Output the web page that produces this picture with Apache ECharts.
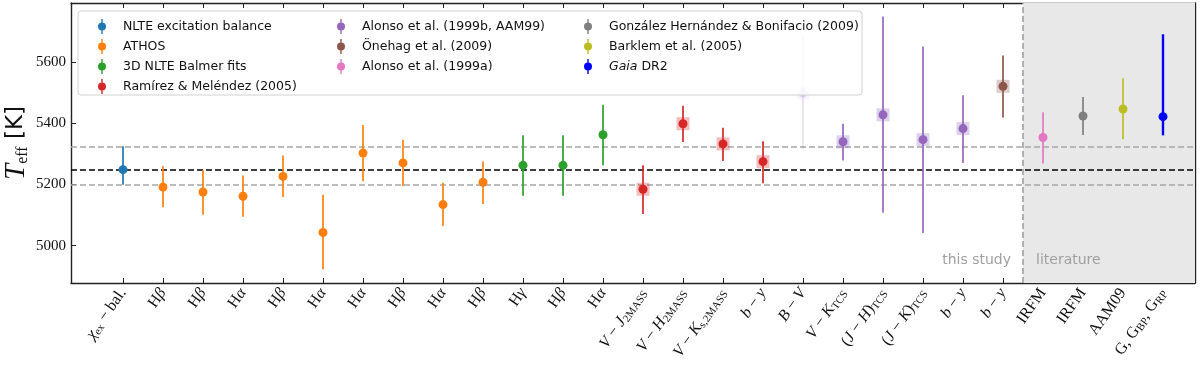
<!DOCTYPE html>
<html>
<head>
<meta charset="utf-8">
<script src="https://cdn.jsdelivr.net/npm/echarts@6/dist/echarts.min.js"></script>
<style>
  html, body { margin: 0; padding: 0; background: #fff; }
  #teff-chart { width: 1200px; height: 367px; }
</style>
</head>
<body>
<div id="teff-chart"></div>
<script>
// x tick labels (rich text markup: m = math italic, s = subscript)
const labels = [
  '{m|χ}{s|ex} − bal.', 'H{m|β}', 'H{m|β}', 'H{m|α}', 'H{m|β}', 'H{m|α}', 'H{m|α}', 'H{m|β}', 'H{m|α}',
  'H{m|β}', 'H{m|γ}', 'H{m|β}', 'H{m|α}',
  '{m|V} − {m|J}{s|2MASS}', '{m|V} − {m|H}{s|2MASS}', '{m|V} − {m|K}{s|s,2MASS}', '{m|b} − {m|y}',
  '{m|B} − {m|V}', '{m|V} − {m|K}{s|TCS}', '({m|J} − {m|H}){s|TCS}', '({m|J} − {m|K}){s|TCS}',
  '{m|b} − {m|y}', '{m|b} − {m|y}', 'IRFM', 'IRFM', 'AAM09', 'G, G{s|BP}, G{s|RP}'
]
const teff = [5248, 5191, 5175, 5161, 5226, 5043, 5302, 5270, 5134, 5207, 5262, 5262, 5362, 5184,
  5398, 5332, 5274, 5498, 5339, 5427, 5346, 5382, 5520, 5353, 5423, 5446, 5421]
const errLow = [5199, 5125, 5101, 5094, 5159, 4922, 5210, 5195, 5065, 5136, 5163, 5163, 5262, 5103,
  5338, 5276, 5204, 5316, 5278, 5107, 5041, 5270, 5418, 5268, 5361, 5347, 5360]
const errHigh = [5324, 5259, 5246, 5229, 5294, 5166, 5394, 5346, 5205, 5275, 5360, 5360, 5460, 5262,
  5457, 5385, 5341, 5685, 5398, 5748, 5650, 5491, 5621, 5435, 5485, 5546, 5690]
// which source each point belongs to (index into sourceNames)
const sourceOf = [0, 1, 1, 1, 1, 1, 1, 1, 1, 1, 2, 2, 2, 3, 3, 3, 3, 4, 4, 4, 4, 4, 5, 6, 7, 8, 9]
const boxed = [0, 0, 0, 0, 0, 0, 0, 0, 0, 0, 0, 0, 0, 1, 1, 1, 1, 1, 1, 1, 1, 1, 1, 0, 0, 0, 0]
const faded = [0, 0, 0, 0, 0, 0, 0, 0, 0, 0, 0, 0, 0, 0, 0, 0, 0, 1, 0, 0, 0, 0, 0, 0, 0, 0, 0]
const sourceNames = [
  'NLTE excitation balance', 'ATHOS', '3D NLTE Balmer fits', 'Ramírez & Meléndez (2005)',
  'Alonso et al. (1999b, AAM99)', 'Önehag et al. (2009)', 'Alonso et al. (1999a)',
  'González Hernández & Bonifacio (2009)', 'Barklem et al. (2005)', 'Gaia DR2'
]
const colors = ['#1f77b4', '#ff7f0e', '#2ca02c', '#d62728', '#9467bd', '#8c564b', '#e377c2',
  '#7f7f7f', '#bcbd22', '#0000ff']
const refTeff = 5248
const refLow = 5199
const refHigh = 5324
const yTicks = [5000, 5200, 5400, 5600]
const literatureStart = 22.5

const serif = '"Liberation Serif", "DejaVu Serif", serif'
const sans = '"DejaVu Sans", sans-serif'
const xMin = -1.3
const xMax = 26.8
const yMin = 4878
const yMax = 5792

function renderErr(params, api) {
  const x = api.value(0)
  const c = api.coord([x, api.value(1)])
  const lo = api.coord([x, api.value(2)])
  const hi = api.coord([x, api.value(3)])
  const color = api.visual('color')
  const op = api.value(5) ? 0.22 : 1
  const lw = params.seriesName === 'Gaia DR2' ? 2.4 : 1.7
  const children = []
  if (api.value(4)) {
    children.push({
      type: 'rect',
      shape: { x: c[0] - 6.5, y: c[1] - 6.5, width: 13, height: 13 },
      style: { fill: color, opacity: 0.3 * op },
    })
  }
  children.push({
    type: 'line',
    shape: { x1: c[0], y1: hi[1], x2: c[0], y2: lo[1] },
    style: { stroke: color, lineWidth: lw, opacity: op },
  })
  children.push({
    type: 'circle',
    shape: { cx: c[0], cy: c[1], r: 4.5 },
    style: { fill: color, opacity: op },
  })
  return { type: 'group', children }
}

function getSeries() {
  const series = sourceNames.map((name, k) => {
    const data = []
    teff.forEach((v, i) => {
      if (sourceOf[i] === k) data.push([i, v, errLow[i], errHigh[i], boxed[i], faded[i]])
    })
    return {
      name,
      type: 'custom',
      renderItem: renderErr,
      itemStyle: { color: colors[k] },
      encode: { x: 0, y: [1, 2, 3] },
      data,
      z: 5,
    }
  })
  // reference lines, shaded literature region
  series.push({
    name: 'ref',
    type: 'line',
    data: [],
    silent: true,
    markArea: {
      silent: true,
      itemStyle: { color: '#e8e8e8' },
      data: [[{ xAxis: literatureStart }, { xAxis: xMax }]],
    },
    markLine: {
      silent: true,
      symbol: 'none',
      label: { show: false },
      data: [
        { yAxis: refTeff, lineStyle: { color: '#000', width: 1.6, type: [6, 3] } },
        { yAxis: refLow, lineStyle: { color: '#a6a6a6', width: 1.6, type: [6, 3] } },
        { yAxis: refHigh, lineStyle: { color: '#a6a6a6', width: 1.6, type: [6, 3] } },
        { xAxis: literatureStart, lineStyle: { color: '#a0a0a0', width: 1.6, type: [6, 3] } },
      ],
    },
    z: 1,
  })
  return series
}

const legendIcon = 'path://M3.3,0h1.4v15h-1.4z M0,7.5a4,4 0 1,1 8,0a4,4 0 1,1 -8,0z'
function makeLegend(left, names) {
  return {
    left,
    top: 14,
    orient: 'vertical',
    icon: legendIcon,
    itemWidth: 8,
    itemHeight: 15,
    itemGap: 5,
    selectedMode: false,
    data: names,
    formatter: (n) => (n === 'Gaia DR2' ? '{i|Gaia} DR2' : n),
    textStyle: {
      fontFamily: sans,
      fontSize: 12.5,
      color: '#111',
      padding: [0, 0, 0, 12],
      rich: { i: { fontFamily: sans, fontSize: 12.5, fontStyle: 'italic', color: '#111' } },
    },
    z: 20,
  }
}

const labelRich = {
  m: { fontFamily: serif, fontStyle: 'italic', fontSize: 16, color: '#111' },
  s: { fontFamily: serif, fontSize: 11, color: '#111', verticalAlign: 'bottom', padding: [7, 0, 0, 0] },
}

const tickIdx = labels.map((l, i) => i)

const chart = echarts.init(document.getElementById('teff-chart'))
const option = {
  animation: false,
  backgroundColor: '#fff',
  grid: { left: 71, right: 5, top: 3, bottom: 84, outerBoundsMode: 'none', containLabel: false },
  legend: [
    makeLegend(93, sourceNames.slice(0, 4)),
    makeLegend(332, sourceNames.slice(4, 7)),
    makeLegend(579, sourceNames.slice(7, 10)),
  ],
  graphic: [
    {
      type: 'rect',
      shape: { x: 78, y: 11, width: 784, height: 84, r: 3 },
      style: { fill: 'rgba(255,255,255,0.8)', stroke: '#d0d0d0', lineWidth: 1 },
      z: 15,
    },
    {
      type: 'text',
      x: 1011, y: 260,
      style: { text: 'this study', fill: '#a0a0a0', font: '14px ' + sans, align: 'right', verticalAlign: 'middle' },
      z: 10,
    },
    {
      type: 'text',
      x: 1036, y: 260,
      style: { text: 'literature', fill: '#a0a0a0', font: '14px ' + sans, align: 'left', verticalAlign: 'middle' },
      z: 10,
    },
  ],
  xAxis: [
    {
      type: 'value',
      min: xMin,
      max: xMax,
      splitLine: { show: false },
      axisLine: { onZero: false, lineStyle: { color: '#222', width: 1.4 } },
      axisTick: { inside: true, length: 5, customValues: tickIdx, lineStyle: { color: '#222' } },
      axisLabel: {
        customValues: tickIdx,
        rotate: 55,
        margin: 7,
        fontFamily: serif,
        fontSize: 16,
        color: '#111',
        formatter: (v) => labels[Math.round(v)],
        rich: labelRich,
      },
    },
    {
      type: 'value',
      position: 'top',
      min: xMin,
      max: xMax,
      splitLine: { show: false },
      axisLine: { onZero: false, lineStyle: { color: '#222', width: 1.4 } },
      axisTick: { inside: true, length: 5, customValues: tickIdx, lineStyle: { color: '#222' } },
      axisLabel: { show: false },
    },
  ],
  yAxis: [
    {
      type: 'value',
      min: yMin,
      max: yMax,
      splitLine: { show: false },
      axisLine: { show: true, onZero: false, lineStyle: { color: '#222', width: 1.4 } },
      axisTick: { inside: true, length: 5, customValues: yTicks, lineStyle: { color: '#222' } },
      axisLabel: {
        customValues: yTicks,
        fontFamily: serif,
        fontSize: 15,
        color: '#111',
        margin: 5,
        formatter: (v) => String(v),
      },
      name: '{t|T}{s|eff} [K]',
      nameLocation: 'middle',
      nameRotate: 90,
      nameGap: 40,
      nameMoveOverlap: false,
      nameTextStyle: {
        fontFamily: sans,
        fontSize: 23,
        color: '#111',
        rich: {
          t: { fontFamily: serif, fontStyle: 'italic', fontSize: 29, color: '#111' },
          s: { fontFamily: serif, fontSize: 16, color: '#111', verticalAlign: 'bottom', padding: [9, 0, 0, 0] },
        },
      },
    },
    {
      type: 'value',
      position: 'right',
      min: yMin,
      max: yMax,
      splitLine: { show: false },
      axisLine: { show: true, onZero: false, lineStyle: { color: '#222', width: 1.4 } },
      axisTick: { inside: true, length: 5, customValues: yTicks, lineStyle: { color: '#222' } },
      axisLabel: { show: false },
    },
  ],
  series: getSeries(),
}
chart.setOption(option)
window.addEventListener('resize', () => {
  chart.resize()
})
</script>
</body>
</html>
